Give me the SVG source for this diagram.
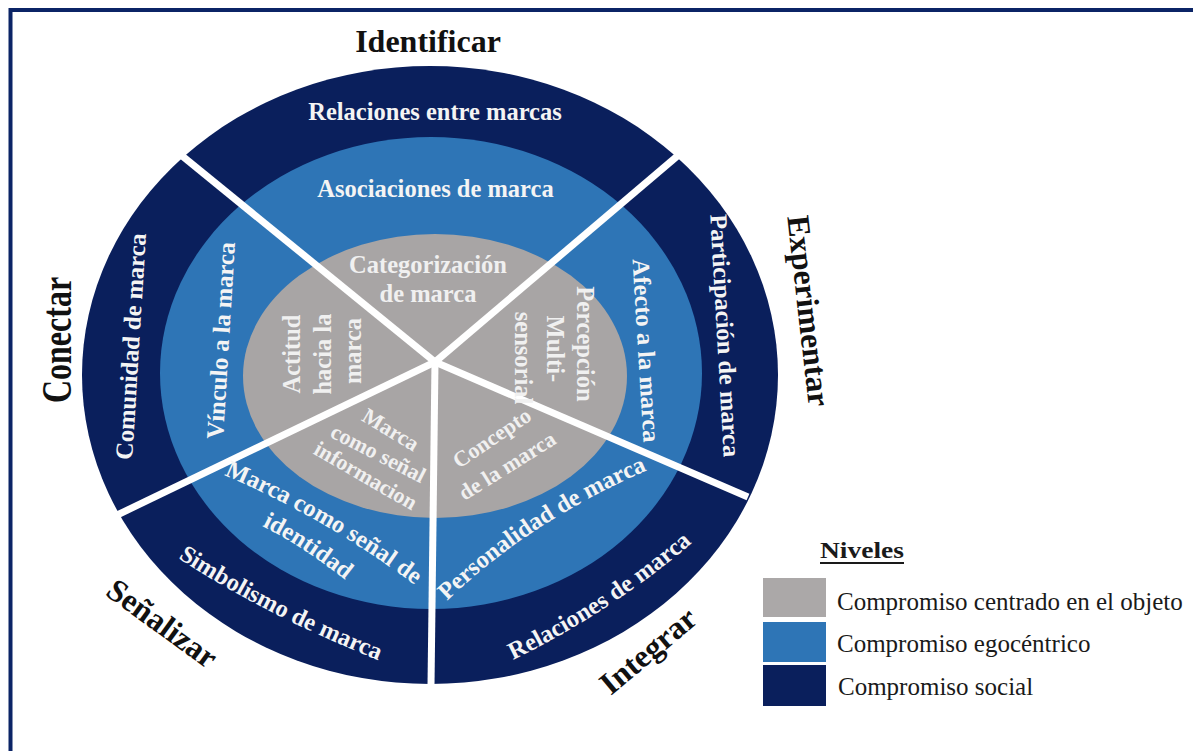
<svg xmlns="http://www.w3.org/2000/svg" width="1193" height="751" viewBox="0 0 1193 751">
  <style>
    .txt { font-family: "Liberation Serif", "Times New Roman", serif; font-weight: bold; }
    .ring { font-size: 24.5px; fill: #f4f4f4; }
    .core { font-size: 22px; fill: #f0f0f0; }
    .core-lg { font-size: 24.5px; fill: #f0f0f0; }
    .dim { font-size: 32px; fill: #111111; }
    .legend { font-family: "Liberation Serif", "Times New Roman", serif; font-size: 25px; fill: #1a1a1a; }
    .divider { stroke: #ffffff; stroke-width: 7; fill: none; }
  </style>
  <defs>
    <!-- baselines for the arched labels in the lower half -->
    <path id="arc-simbolismo" d="M178,558 Q270,618 388,664 L428,680"/>
    <path id="arc-identidad1" d="M224,475 Q330,520 424,592 L456,617"/>
    <path id="arc-identidad2" d="M262,526 Q306,548 350,584 L380,609"/>
    <path id="arc-personalidad" d="M447,601 Q530,520 657,466 L694,450"/>
    <path id="arc-relaciones" d="M513,660 Q615,610 699,537 L729,511"/>
  </defs>

  <rect x="0" y="0" width="1193" height="751" fill="#ffffff"/>
  <rect x="10.5" y="10" width="1220" height="800" fill="none" stroke="#0b2466" stroke-width="4"/>

  <!-- three engagement levels as nested ellipses -->
  <g id="levels">
    <ellipse id="level-social" cx="430" cy="375" rx="348" ry="309" fill="#0a1f5c"/>
    <ellipse id="level-ego" cx="431" cy="373" rx="271" ry="236" fill="#2e75b6"/>
    <ellipse id="level-object" cx="435" cy="376" rx="192" ry="142" fill="#a8a5a5"/>
  </g>

  <!-- spokes separating the five dimensions -->
  <g id="connectors">
    <line class="divider" x1="435" y1="362" x2="181" y2="155"/>
    <line class="divider" x1="435" y1="362" x2="688" y2="147"/>
    <line class="divider" x1="435" y1="362" x2="748" y2="497"/>
    <line class="divider" x1="435" y1="362" x2="431" y2="686"/>
    <line class="divider" x1="435" y1="362" x2="113" y2="517"/>
  </g>

  <!-- Identificar -->
  <g id="dim-identificar" class="txt">
    <text class="dim" x="428" y="52" text-anchor="middle">Identificar</text>
    <text class="ring" x="435" y="120" text-anchor="middle">Relaciones entre marcas</text>
    <text class="ring" x="435.5" y="197" text-anchor="middle">Asociaciones de marca</text>
    <text class="core-lg" x="428" y="273" text-anchor="middle">Categorización</text>
    <text class="core-lg" x="428" y="302" text-anchor="middle">de marca</text>
  </g>

  <!-- Experimentar -->
  <g id="dim-experimentar" class="txt">
    <text class="dim" transform="translate(798,312) rotate(83.5)" text-anchor="middle">Experimentar</text>
    <text class="ring" transform="translate(717,336) rotate(86.8)" text-anchor="middle">Participación de marca</text>
    <text class="ring" transform="translate(638,351) rotate(86.5)" text-anchor="middle">Afecto a la marca</text>
    <text class="core-lg" transform="translate(577,347) rotate(90)" text-anchor="middle">
      <tspan x="0" y="0">Percepción</tspan>
      <tspan x="5" y="30">Multi-</tspan>
      <tspan x="11" y="62">sensorial</tspan>
    </text>
  </g>

  <!-- Integrar -->
  <g id="dim-integrar" class="txt">
    <text class="dim" transform="translate(655,659) rotate(-40)" text-anchor="middle">Integrar</text>
    <text class="ring"><textPath href="#arc-relaciones">Relaciones de marca</textPath></text>
    <text class="ring"><textPath href="#arc-personalidad">Personalidad de marca</textPath></text>
    <text class="core" transform="translate(496,444) rotate(-34)" text-anchor="middle">Concepto</text>
    <text class="core" transform="translate(511,472) rotate(-32)" text-anchor="middle">de la marca</text>
  </g>

  <!-- Señalizar -->
  <g id="dim-senalizar" class="txt">
    <text class="dim" transform="translate(156,632) rotate(36)" text-anchor="middle">Señalizar</text>
    <text class="ring"><textPath href="#arc-simbolismo">Simbolismo de marca</textPath></text>
    <text class="ring"><textPath href="#arc-identidad1">Marca como señal de</textPath></text>
    <text class="ring"><textPath href="#arc-identidad2">identidad</textPath></text>
    <text class="core" transform="translate(387,436) rotate(31)" text-anchor="middle">Marca</text>
    <text class="core" transform="translate(375,460) rotate(27)" text-anchor="middle">como señal</text>
    <text class="core" transform="translate(362,482) rotate(30)" text-anchor="middle">informacion</text>
  </g>

  <!-- Conectar -->
  <g id="dim-conectar" class="txt">
    <text class="dim" transform="translate(71,340) rotate(-90) scale(1,1.3)" text-anchor="middle">Conectar</text>
    <text class="ring" transform="translate(139,347) rotate(-86.5)" text-anchor="middle">Comunidad de marca</text>
    <text class="ring" transform="translate(229,341) rotate(-86.5)" text-anchor="middle">Vínculo a la marca</text>
    <text class="core-lg" transform="translate(300,351) rotate(-90)" text-anchor="middle">
      <tspan x="0" y="0">Actitud</tspan>
      <tspan x="0" y="31">hacia la</tspan>
      <tspan x="0" y="61">marca</tspan>
    </text>
  </g>

  <!-- legend -->
  <g id="legend">
    <text class="txt" x="820" y="558" font-size="24" fill="#1a1a1a" textLength="84" lengthAdjust="spacingAndGlyphs">Niveles</text>
    <rect x="820" y="562" width="84" height="2" fill="#1a1a1a"/>
    <rect x="763" y="578" width="63" height="39" fill="#aba8a8"/>
    <rect x="763" y="622" width="63" height="40" fill="#2e75b6"/>
    <rect x="763" y="665" width="63" height="41" fill="#0a1f5c"/>
    <text class="legend" x="837" y="610">Compromiso centrado en el objeto</text>
    <text class="legend" x="837" y="652">Compromiso egocéntrico</text>
    <text class="legend" x="838" y="695">Compromiso social</text>
  </g>
</svg>
